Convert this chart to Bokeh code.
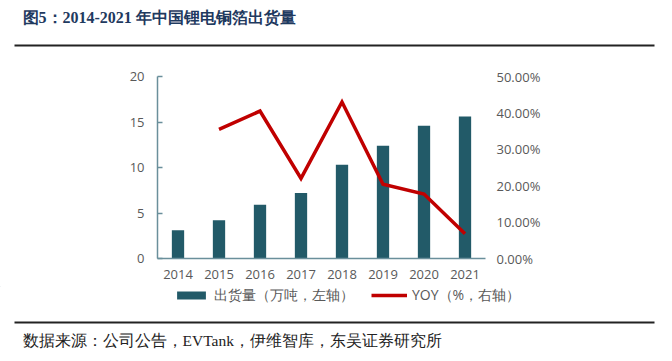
from bokeh.plotting import figure
from bokeh.models import (Range1d, LinearAxis, FixedTicker, NumeralTickFormatter,
                          Label, BoxAnnotation, Legend, LegendItem, FactorRange)
from bokeh.embed import file_html
from bokeh.resources import INLINE

# ---- data ----
years = ["2014", "2015", "2016", "2017", "2018", "2019", "2020", "2021"]
shipments = [3.1, 4.2, 5.9, 7.2, 10.3, 12.4, 14.6, 15.6]          # 万吨
yoy_years = ["2015", "2016", "2017", "2018", "2019", "2020", "2021"]
yoy = [0.355, 0.405, 0.22, 0.43, 0.204, 0.177, 0.068]              # YOY
left_ticks = [0, 5, 10, 15, 20]
right_ticks = [0, 0.1, 0.2, 0.3, 0.4, 0.5]

title_text = "图5：2014-2021 年中国锂电铜箔出货量"
source_text = "数据来源：公司公告，EVTank，伊维智库，东吴证券研究所"
bar_label = "出货量（万吨，左轴）"
line_label = "YOY（%，右轴）"

BAR = "#225a68"
RED = "#c00000"
AXIS = "#6a8f9b"
TICK = "#595959"
FONT = "Open Sans"

W = 672
H_HEAD, H_MAIN = 48, 238                  # 0-48, 48-286
H_FOOT = 361 - H_HEAD - H_MAIN            # 286-361
FL, FR, FT, FB = 157, 485, 76, 258        # frame in page px


def blank(h, y0):
    f = figure(width=W, height=h, output_backend="svg", toolbar_location=None,
               x_range=Range1d(0, W), y_range=Range1d(y0 + h, y0),
               x_axis_location=None, y_axis_location=None,
               min_border=0, min_border_left=0, min_border_right=0,
               min_border_top=0, min_border_bottom=0)
    f.outline_line_color = None
    f.xgrid.visible = False
    f.ygrid.visible = False
    return f

# ---- header ----
head = blank(H_HEAD, 0)
head.add_layout(Label(x=22, y=17, text=title_text, text_font="Liberation Serif",
                      text_font_style="bold", text_font_size="16px",
                      text_color="#1f3a60", text_baseline="middle"))
head.add_layout(BoxAnnotation(left=14, right=654, top=44, bottom=46,
                              fill_color="#222222", fill_alpha=1, line_color=None))

# ---- main chart ----
p = figure(width=W, height=H_MAIN, output_backend="svg", toolbar_location=None,
           x_range=FactorRange(*years, range_padding=0), y_range=Range1d(0, 20),
           min_border_left=FL, min_border_right=W - FR,
           min_border_top=FT - H_HEAD, min_border_bottom=H_HEAD + H_MAIN - FB)
p.outline_line_color = None
p.xgrid.visible = False
p.ygrid.visible = False
p.extra_y_ranges = {"yoy": Range1d(0, 0.5)}

vb = p.vbar(x=years, top=shipments, width=0.3, fill_color=BAR, line_color=None)
ln = p.line(x=yoy_years, y=yoy, y_range_name="yoy", line_color=RED, line_width=3.5,
            line_join="miter")

ya = p.yaxis[0]
ya.ticker = FixedTicker(ticks=left_ticks)
ya.axis_line_color = AXIS
ya.axis_line_width = 1.5
ya.major_tick_line_color = AXIS
ya.major_tick_line_width = 1.5
ya.major_tick_in = 5
ya.major_tick_out = 0
ya.minor_tick_line_color = None
ya.major_label_standoff = 13
ya.major_label_text_font = FONT
ya.major_label_text_font_size = "13px"
ya.major_label_text_color = TICK

xa = p.xaxis[0]
xa.axis_line_color = AXIS
xa.axis_line_width = 1.5
xa.major_tick_line_color = None
xa.minor_tick_line_color = None
xa.major_tick_in = 0
xa.major_tick_out = 0
xa.major_label_standoff = 11
xa.major_label_text_font = FONT
xa.major_label_text_font_size = "13px"
xa.major_label_text_color = TICK

ra = LinearAxis(y_range_name="yoy", ticker=FixedTicker(ticks=right_ticks),
                formatter=NumeralTickFormatter(format="0.00%"))
ra.axis_line_color = None
ra.major_tick_line_color = None
ra.minor_tick_line_color = None
ra.major_tick_in = 0
ra.major_tick_out = 0
ra.major_label_standoff = 11
ra.major_label_text_font = FONT
ra.major_label_text_font_size = "13px"
ra.major_label_text_color = TICK
p.add_layout(ra, "right")

# ---- footer: legend, rule, source ----
foot = blank(H_FOOT, H_HEAD + H_MAIN)
# legend proxies (one hidden point each, outside the footer's visible range)
lb = foot.vbar(x=[0], top=[0], bottom=[0], width=1, fill_color=BAR, line_color=None)
ll = foot.line(x=[0], y=[0], line_color=RED, line_width=3.5)
legend = Legend(items=[LegendItem(label=bar_label, renderers=[lb]),
                       LegendItem(label=line_label, renderers=[ll])],
                orientation="horizontal", location=(173, H_FOOT - 18.5),
                glyph_width=36, glyph_height=10, label_height=10,
                label_standoff=5, spacing=17,
                label_text_font=FONT, label_text_font_size="14px",
                label_text_color=TICK, border_line_color=None,
                background_fill_alpha=0, padding=0, margin=0)
foot.add_layout(legend, "center")
foot.add_layout(BoxAnnotation(left=14, right=654, top=321, bottom=323,
                              fill_color="#222222", fill_alpha=1, line_color=None))
foot.add_layout(Label(x=22, y=340, text=source_text, text_font="Liberation Serif",
                      text_font_size="15.5px", text_color="#222222",
                      text_baseline="middle"))

open("out.html", "w").write(file_html([head, p, foot], INLINE))
